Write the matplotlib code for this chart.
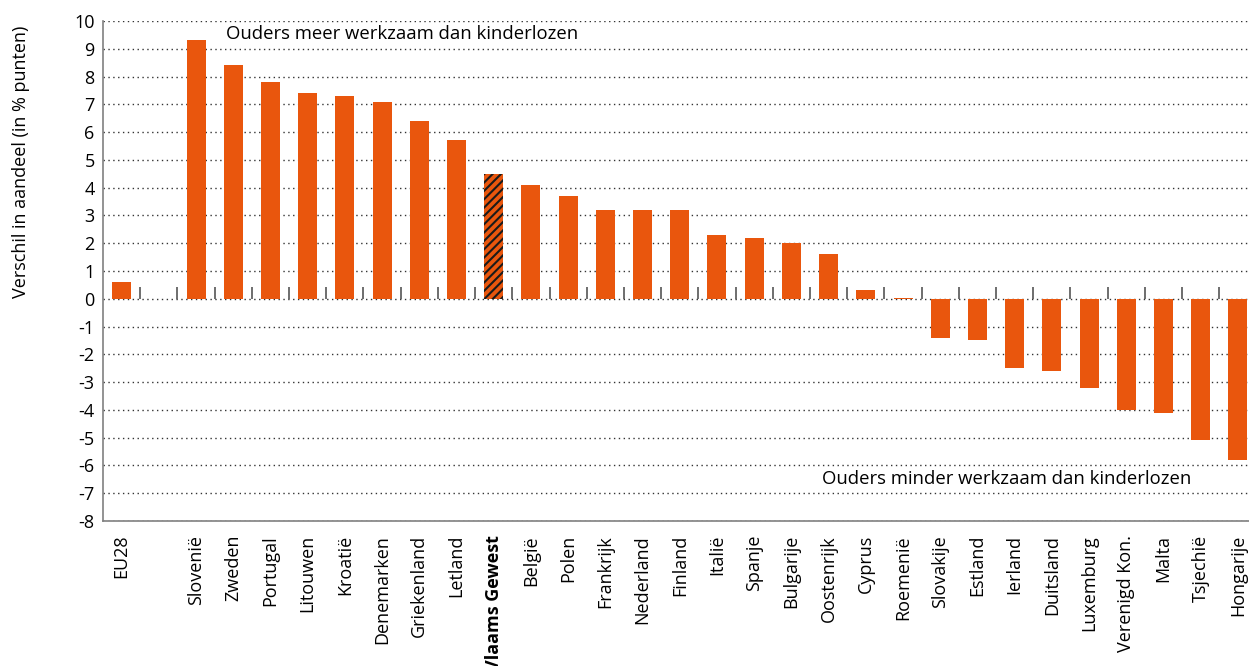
import numpy as np
import matplotlib
matplotlib.use('Agg')
import matplotlib.pyplot as plt

plt.rcParams['font.family'] = ['Open Sans', 'DejaVu Sans']
plt.rcParams['hatch.linewidth'] = 1.5
plt.rcParams['axes.unicode_minus'] = False

landen = ['EU28', '', 'Slovenië', 'Zweden', 'Portugal', 'Litouwen', 'Kroatië', 'Denemarken',
          'Griekenland', 'Letland', 'Vlaams Gewest', 'België', 'Polen', 'Frankrijk', 'Nederland',
          'Finland', 'Italië', 'Spanje', 'Bulgarije', 'Oostenrijk', 'Cyprus', 'Roemenië',
          'Slovakije', 'Estland', 'Ierland', 'Duitsland', 'Luxemburg', 'Verenigd Kon.',
          'Malta', 'Tsjechië', 'Hongarije']
verschil = [0.6, 0.0, 9.3, 8.4, 7.8, 7.4, 7.3, 7.1, 6.4, 5.7, 4.5, 4.1, 3.7, 3.2, 3.2,
            3.2, 2.3, 2.2, 2.0, 1.6, 0.3, 0.03, -1.4, -1.5, -2.5, -2.6, -3.2, -4.0,
            -4.1, -5.1, -5.8]

oranje = '#E9560D'
x = np.arange(len(landen))

fig = plt.figure(figsize=(12.49, 6.66), dpi=100)
ax = fig.add_axes([0.0825, 0.2177, 0.9235, 0.7507])

for i, (land, v) in enumerate(zip(landen, verschil)):
    if land == '':
        continue
    if land == 'Vlaams Gewest':
        ax.bar(i, v, width=0.51, color=oranje, hatch='////', edgecolor='#1a1a1a', linewidth=0)
    else:
        ax.bar(i, v, width=0.51, color=oranje, linewidth=0)

# tick marks op de nullijn tussen de categorieen
ax.vlines(x[:-1] + 0.5, 0, 0.43, color='#555555', linewidth=1.2, zorder=3)

ax.set_xlim(-0.5, len(landen) - 0.5)
ax.set_ylim(-8, 10)
ax.set_yticks(range(-8, 11))
ax.yaxis.grid(True, linestyle=(0, (1, 2.5)), color='#333333', linewidth=1.0)
ax.set_axisbelow(True)
ax.tick_params(axis='y', length=0, labelsize=13, pad=6)
ax.set_xticks(x)
ax.set_xticklabels(landen, rotation=90, va='top', ha='center', fontsize=13)
ax.tick_params(axis='x', length=0, pad=10)
for lbl in ax.get_xticklabels():
    if lbl.get_text() == 'Vlaams Gewest':
        lbl.set_fontweight('bold')

for s in ['top', 'right']:
    ax.spines[s].set_visible(False)
for s in ['left', 'bottom']:
    ax.spines[s].set_color('#808080')
    ax.spines[s].set_linewidth(1.2)

ax.set_ylabel('Verschil in aandeel (in % punten)', fontsize=13)
ax.yaxis.set_label_coords(-0.063, 0.718)

ax.text(2.8, 9.53, 'Ouders meer werkzaam dan kinderlozen', fontsize=13.3, va='center', ha='left')
ax.text(18.83, -6.5, 'Ouders minder werkzaam dan kinderlozen', fontsize=13.3, va='center', ha='left')

plt.savefig('out.png', dpi=100)
